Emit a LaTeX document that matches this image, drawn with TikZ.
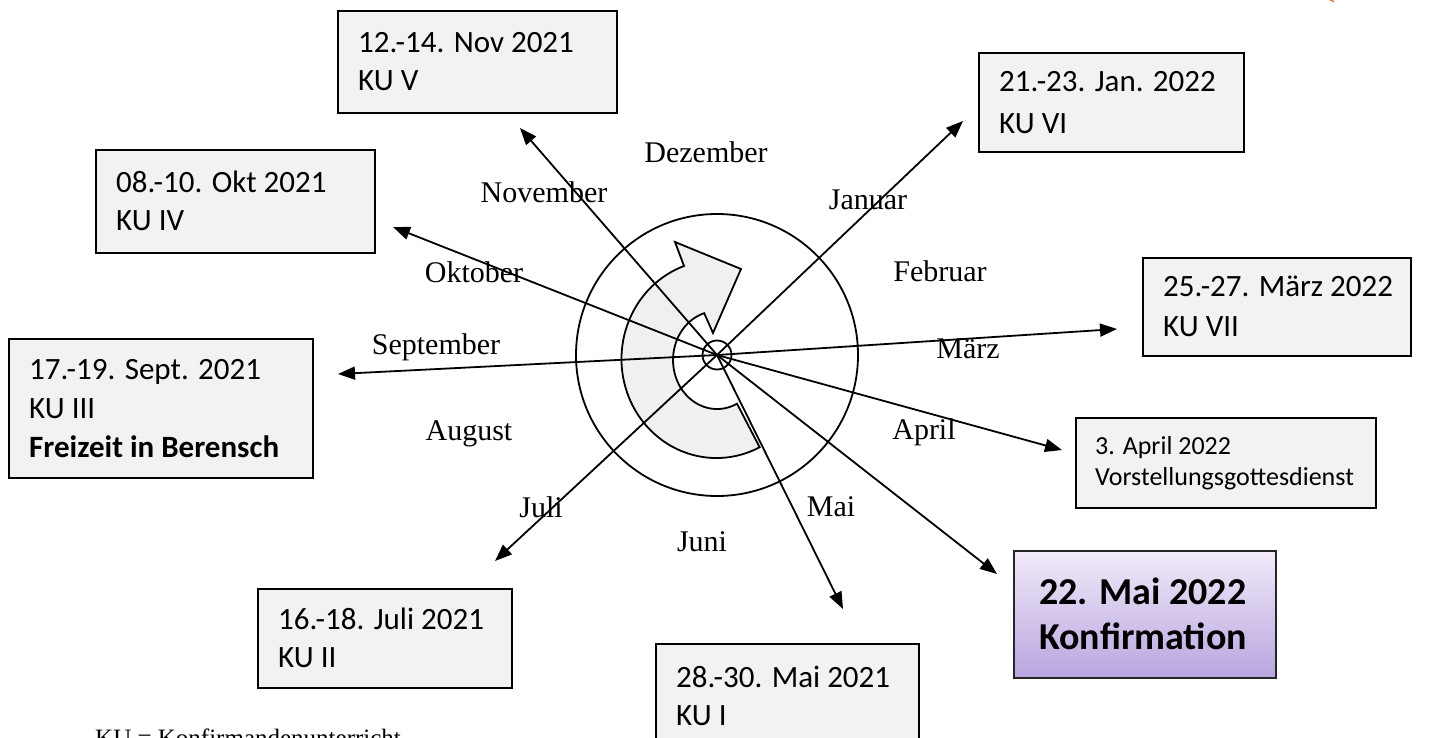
\documentclass[tikz,border=0pt]{standalone}
\usepackage{fontspec}
\setmainfont{Liberation Serif}
\newfontfamily\calfont{Carlito}
\usetikzlibrary{arrows.meta}
\definecolor{boxgray}{HTML}{F2F2F2}
\definecolor{shapegray}{HTML}{F0F0F0}
\definecolor{konftop}{HTML}{F1EAF9}
\definecolor{konfbot}{HTML}{B8A5DF}
\definecolor{orangemark}{HTML}{ED7D31}
\begin{document}
\begin{tikzpicture}[x=1pt,y=1pt,
  kubox/.style={draw=black, line width=1.6pt, fill=boxgray, anchor=north west, inner sep=0pt},
  kutext/.style={anchor=west, inner sep=0pt, align=left, font=\calfont\fontsize{31}{38}\selectfont},
  month/.style={font=\fontsize{30}{33}\selectfont, inner sep=0pt},
  arr/.style={line width=1.8pt, -{Triangle[length=17pt,width=13pt]}},
  ring/.style={line width=1.8pt}]
\useasboundingbox (0,0) rectangle (1429,-738);
\clip (0,0) rectangle (1429,-738);

% circular arrow shape
\draw[line width=1.8pt, fill=shapegray, line join=miter]
  (684,-266) arc[start angle=110, end angle=297, x radius=95, y radius=99]
  -- (737,-403.7)
  arc[start angle=297, end angle=107, x radius=44, y radius=49]
  -- (713,-333) -- (741,-269) -- (675,-242) -- cycle;

% rings
\coordinate (c) at (717,-355);
\node[draw, circle, ring, minimum size=282pt, inner sep=0pt] (outer) at (c) {};
\node[draw, circle, ring, minimum size=29pt, inner sep=0pt] (hub) at (c) {};

% boxes
\node[kubox, minimum width=279pt, minimum height=102pt] (kuV) at (337,-10) {};
\node[kutext] (kuVt) at ([xshift=21pt]kuV.west) {12.-14. Nov 2021\\KU V};

\node[kubox, minimum width=279pt, minimum height=103pt] (kuIV) at (95,-149) {};
\node[kutext] (kuIVt) at ([xshift=21pt]kuIV.west) {08.-10. Okt 2021\\KU IV};

\node[kubox, minimum width=304pt, minimum height=139pt] (kuIII) at (8,-338) {};
\node[kutext, font=\calfont\fontsize{31}{39}\selectfont] (kuIIIt) at ([xshift=21pt]kuIII.west) {17.-19. Sept. 2021\\KU III\\\textbf{Freizeit in Berensch}};

\node[kubox, minimum width=254pt, minimum height=99pt] (kuII) at (257,-588) {};
\node[kutext] (kuIIt) at ([xshift=21pt]kuII.west) {16.-18. Juli 2021\\KU II};

\node[kubox, minimum width=263pt, minimum height=104pt] (kuI) at (655,-643) {};
\node[kutext] (kuIt) at ([xshift=21pt]kuI.west) {28.-30. Mai 2021\\KU I};

\node[kubox, minimum width=265pt, minimum height=99pt] (kuVI) at (978,-52) {};
\node[kutext, font=\calfont\fontsize{31}{42}\selectfont] (kuVIt) at ([xshift=21pt]kuVI.west) {21.-23. Jan. 2022\\KU VI};

\node[kubox, minimum width=268pt, minimum height=98pt] (kuVII) at (1142,-257) {};
\node[kutext, font=\calfont\fontsize{31}{40}\selectfont] (kuVIIt) at ([xshift=21pt]kuVII.west) {25.-27. März 2022\\KU VII};

\node[kubox, minimum width=300pt, minimum height=90pt] (apr) at (1075,-417) {};
\node[kutext, font=\calfont\fontsize{26}{31}\selectfont] (aprt) at ([xshift=20pt]apr.west) {3. April 2022\\Vorstellungsgottesdienst};

\node[kubox, draw=black!85, top color=konftop, bottom color=konfbot, minimum width=262pt, minimum height=127pt] (konf) at (1013,-550) {};
\node[kutext, font=\calfont\bfseries\fontsize{38}{45}\selectfont] (konft) at ([xshift=26pt]konf.west) {22. Mai 2022\\Konfirmation};

% arrow tips
\coordinate (tV) at (520,-128);
\coordinate (tIV) at (393,-227);
\coordinate (tIII) at (338,-374);
\coordinate (tII) at (495,-561);
\coordinate (tI) at (843,-609);
\coordinate (tKonf) at (997,-574);
\coordinate (tApr) at (1062,-450);
\coordinate (tVII) at (1117,-329);
\coordinate (tVI) at (963,-121);

\foreach \t in {tV,tIV,tIII,tII,tI,tKonf,tApr,tVII,tVI}
  \draw[arr] (c) -- (\t);

% month labels
\node[month] (dez) at (706,-152) {Dezember};
\node[month] (nov) at (544,-192) {November};
\node[month] (jan) at (868,-200) {Januar};
\node[month] (okt) at (474,-272) {Oktober};
\node[month] (feb) at (940,-271) {Februar};
\node[month] (sep) at (436,-347) {September};
\node[month] (mae) at (968,-349) {März};
\node[month] (aug) at (469,-434) {August};
\node[month] (aprm) at (924,-432) {April};
\node[month] (jul) at (541,-507) {Juli};
\node[month] (mai) at (831,-507) {Mai};
\node[month] (jun) at (702,-542) {Juni};

% footnote (cut off at the bottom)
\node[font=\fontsize{25}{28}\selectfont, inner sep=0pt, anchor=base west] (legend) at (95,-746) {KU = Konfirmandenunterricht};

% small orange mark at top right
\draw[orangemark, line width=1.5pt] (1330,0) -- (1334,-1.5);
\end{tikzpicture}
\end{document}
